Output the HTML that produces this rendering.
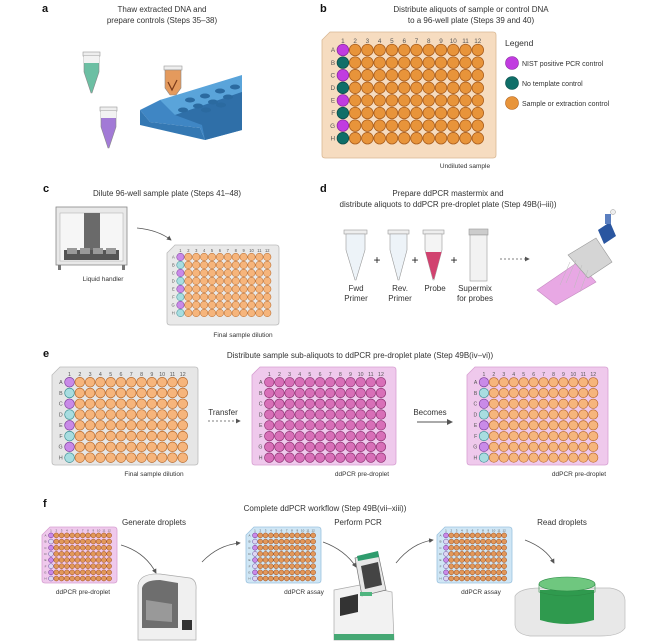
<!DOCTYPE html>
<html><head><meta charset="utf-8"><style>
body{margin:0;background:#fff;}
svg{display:block;font-family:"Liberation Sans",sans-serif;}
</style></head><body>
<svg id="s" width="650" height="642" viewBox="0 0 650 642" xmlns="http://www.w3.org/2000/svg">
<defs>
<marker id="ah" markerWidth="6" markerHeight="6" refX="5" refY="3" orient="auto"><path d="M0,0 L6,3 L0,6 z" fill="#555"/></marker>
</defs>
<g font-size="8" fill="#333" text-anchor="middle">
<g font-weight="bold" font-size="11" fill="#111" text-anchor="start">
<text x="42" y="12">a</text><text x="320" y="12">b</text>
<text x="43" y="192">c</text><text x="320" y="192">d</text>
<text x="43" y="357">e</text><text x="43" y="507">f</text>
</g>
<text x="162" y="12">Thaw extracted DNA and</text>
<text x="162" y="23">prepare controls (Steps 35–38)</text>
<text x="471" y="12">Distribute aliquots of sample or control DNA</text>
<text x="471" y="23">to a 96-well plate (Steps 39 and 40)</text>
<text x="167" y="196">Dilute 96-well sample plate (Steps 41–48)</text>
<text x="448" y="196">Prepare ddPCR mastermix and</text>
<text x="448" y="207">distribute aliquots to ddPCR pre-droplet plate (Step 49B(i–iii))</text>
<text x="360" y="358">Distribute sample sub-aliquots to ddPCR pre-droplet plate (Step 49B(iv–vi))</text>
<text x="325" y="511">Complete ddPCR workflow (Step 49B(vii–xiii))</text>
<text x="154" y="525">Generate droplets</text>
<text x="358" y="525">Perform PCR</text>
<text x="562" y="525">Read droplets</text>
</g>
<g font-size="6.5" fill="#333" text-anchor="middle">
<text x="465" y="168">Undiluted sample</text>
<text x="103" y="281">Liquid handler</text>
<text x="243" y="337">Final sample dilution</text>
<text x="154" y="476">Final sample dilution</text>
<text x="362" y="476">ddPCR pre-droplet</text>
<text x="579" y="476">ddPCR pre-droplet</text>
<text x="83" y="594">ddPCR pre-droplet</text>
<text x="304" y="594">ddPCR assay</text>
<text x="481" y="594">ddPCR assay</text>
</g>
<g font-size="8" fill="#333" text-anchor="middle">
<text x="356" y="291">Fwd</text><text x="356" y="301">Primer</text>
<text x="400" y="291">Rev.</text><text x="400" y="301">Primer</text>
<text x="435" y="291">Probe</text>
<text x="475" y="291">Supermix</text><text x="475" y="301">for probes</text>
<text x="223" y="415">Transfer</text>
<text x="430" y="415">Becomes</text>
</g>
<g font-size="7" fill="#333">
<text x="505" y="46" font-size="8.5">Legend</text>
<circle cx="512" cy="63" r="6.5" fill="#c13ce0" stroke="#8a2aa0" stroke-width=".6"/><text x="522" y="66">NIST positive PCR control</text>
<circle cx="512" cy="83" r="6.5" fill="#0f6e68" stroke="#0a4d49" stroke-width=".6"/><text x="522" y="86">No template control</text>
<circle cx="512" cy="103" r="6.5" fill="#e8943a" stroke="#b0621f" stroke-width=".6"/><text x="522" y="106">Sample or extraction control</text>
</g>
<g>
<rect x="83" y="52" width="17" height="4" fill="#eee" stroke="#999" stroke-width=".6"/>
<path d="M84,56 L99,56 L99,72 L92,93 L91,93 L84,72 z" fill="#6cbfa3" stroke="#888" stroke-width=".6"/>
<path d="M84,56 L99,56 L99,63 L84,63 z" fill="#f2f2f2"/>
<rect x="100" y="107" width="17" height="4" fill="#eee" stroke="#999" stroke-width=".6"/>
<path d="M101,111 L116,111 L116,127 L109,148 L108,148 L101,127 z" fill="#a27ad6" stroke="#888" stroke-width=".6"/>
<path d="M101,111 L116,111 L116,118 L101,118 z" fill="#f2f2f2"/>
<path d="M140,110 L160,100 L242,82 L242,130 L205,140 L200,128 L150,122 z" fill="#3f86c4"/>
<path d="M160,100 L242,75 L242,92 L175,115 z" fill="#5aa4da"/>
<path d="M175,115 L242,92 L242,130 L205,140 L202,125 z" fill="#2f6fa8"/>
<path d="M140,110 L150,122 L200,128 L205,140 L140,125 z" fill="#3478b3"/>
<g fill="#2b6aa0"><ellipse cx="190" cy="100" rx="5" ry="2.5"/><ellipse cx="205" cy="96" rx="5" ry="2.5"/><ellipse cx="220" cy="91" rx="5" ry="2.5"/><ellipse cx="235" cy="87" rx="5" ry="2.5"/><ellipse cx="198" cy="106" rx="5" ry="2.5"/><ellipse cx="213" cy="102" rx="5" ry="2.5"/><ellipse cx="228" cy="97" rx="5" ry="2.5"/><ellipse cx="183" cy="110" rx="5" ry="2.5"/><ellipse cx="206" cy="110" rx="5" ry="2.5"/><ellipse cx="221" cy="105" rx="5" ry="2.5"/></g>
<rect x="164" y="66" width="18" height="4" fill="#eee" stroke="#999" stroke-width=".6"/>
<path d="M165,70 L181,70 L181,88 L176,95 L170,95 L165,88 z" fill="#e49a5d" stroke="#888" stroke-width=".6"/>
<path d="M168,82 L172,90 L177,80" fill="none" stroke="#7a3a1a" stroke-width="1.2"/>
</g>
<g>
<rect x="56" y="207" width="71" height="58" fill="#e9e9e9" stroke="#888" stroke-width=".8"/>
<rect x="60" y="213" width="63" height="48" fill="#f6f6f6" stroke="#aaa" stroke-width=".5"/>
<rect x="84" y="213" width="16" height="38" fill="#6a6a6a"/>
<rect x="64" y="250" width="55" height="10" fill="#555"/>
<rect x="67" y="248" width="10" height="6" fill="#999"/><rect x="80" y="248" width="10" height="6" fill="#999"/><rect x="93" y="248" width="10" height="6" fill="#999"/><rect x="106" y="248" width="10" height="6" fill="#999"/>
<rect x="58" y="265" width="3" height="5" fill="#777"/><rect x="122" y="265" width="3" height="5" fill="#777"/>
<path d="M137,228 Q158,230 171,240" fill="none" stroke="#555" stroke-width=".8" marker-end="url(#ah)"/>
</g>
<g stroke="#999" stroke-width=".6">
<rect x="344" y="230" width="23" height="4" fill="#eee"/>
<path d="M346,234 L365,234 L365,250 L356,280 L355,280 L346,250 z" fill="#edf3f8"/>
<rect x="388" y="230" width="21" height="4" fill="#eee"/>
<path d="M390,234 L407,234 L407,250 L399,280 L398,280 L390,250 z" fill="#edf3f8"/>
<rect x="423" y="230" width="21" height="4" fill="#eee"/>
<path d="M425,234 L442,234 L442,250 L434,280 L433,280 L425,250 z" fill="#f4f4f4"/>
<path d="M425.5,252 L441.5,252 L434,279 L433,279 z" fill="#d1426f" stroke="none"/>
<rect x="469" y="229" width="19" height="6" fill="#ccc"/>
<rect x="470" y="235" width="17" height="46" fill="#f2f2f2"/>
</g>
<g font-size="12" fill="#222" text-anchor="middle"><text x="377" y="264">+</text><text x="415" y="264">+</text><text x="454" y="264">+</text></g>
<line x1="500" y1="259" x2="529" y2="259" stroke="#555" stroke-width=".8" stroke-dasharray="2,2" marker-end="url(#ah)"/>
<g>
<path d="M537,290 L578,262 L596,282 L556,305 z" fill="#e8a8e4" stroke="#c68cc2" stroke-width=".6"/>
<path d="M568,255 L596,238 L612,262 L588,278 z" fill="#d5d5d5" stroke="#999" stroke-width=".6"/>
<g stroke="#bbb" stroke-width=".5"><line x1="570" y1="262" x2="560" y2="285"/><line x1="576" y1="260" x2="566" y2="283"/><line x1="582" y1="265" x2="574" y2="288"/><line x1="588" y1="270" x2="580" y2="292"/></g>
<path d="M598,230 L610,222 L616,236 L604,244 z" fill="#2a56a0"/>
<rect x="605" y="214" width="6" height="10" fill="#5b7fc0"/>
<circle cx="613" cy="212" r="2.5" fill="#eee" stroke="#999" stroke-width=".5"/>
</g>
<line x1="208" y1="421" x2="240" y2="421" stroke="#555" stroke-width=".8" stroke-dasharray="2,2" marker-end="url(#ah)"/>
<line x1="417" y1="422" x2="452" y2="422" stroke="#555" stroke-width="1" marker-end="url(#ah)"/>
<g fill="none" stroke="#555" stroke-width=".8" marker-end="url(#ah)">
<path d="M121,545 Q145,552 156,573"/>
<path d="M202,562 Q218,545 240,543"/>
<path d="M323,542 Q345,550 356,567"/>
<path d="M396,563 Q412,543 433,540"/>
<path d="M525,540 Q546,548 554,563"/>
</g>
<g>
<path d="M138,585 Q140,573 160,574 L190,578 Q197,580 196,590 L196,640 L138,640 z" fill="#f0f0f0" stroke="#aaa" stroke-width=".7"/>
<path d="M142,588 Q144,580 160,580 L178,583 L178,628 L142,628 z" fill="#6e6e6e"/>
<path d="M146,600 L172,604 L172,622 L146,620 z" fill="#999"/>
<rect x="182" y="620" width="10" height="10" fill="#333"/>
</g>
<g>
<path d="M334,590 L360,585 L392,592 L394,640 L334,640 z" fill="#f2f2f2" stroke="#aaa" stroke-width=".7"/>
<path d="M355,558 L378,553 L386,590 L362,596 z" fill="#e8e8e8" stroke="#777" stroke-width=".7"/>
<path d="M357,556 L378,551 L379,557 L358,561 z" fill="#2e9c6d"/>
<path d="M361,566 L378,562 L382,585 L365,589 z" fill="#444"/>
<path d="M340,598 L358,594 L358,612 L340,616 z" fill="#333"/>
<rect x="360" y="592" width="12" height="4" fill="#4fb57f"/>
<rect x="334" y="634" width="60" height="6" fill="#46a874"/>
</g>
<g>
<path d="M515,596 Q520,588 540,588 L610,588 Q624,590 625,600 L625,628 Q620,636 600,636 L530,636 Q516,634 515,625 z" fill="#e8e8e8" stroke="#bbb" stroke-width=".7"/>
<path d="M540,590 L594,590 L594,620 Q567,628 540,620 z" fill="#2f9a4e"/>
<ellipse cx="567" cy="584" rx="28" ry="7" fill="#6fc77f" stroke="#2c8a45" stroke-width=".6"/>
<path d="M539,584 L539,592 Q567,600 595,592 L595,584" fill="none" stroke="#2c8a45" stroke-width=".6"/>
</g>
<g id="plates"></g>
</svg>
<script>
var NS="http://www.w3.org/2000/svg",G=document.getElementById("plates");
function el(t,a){var e=document.createElementNS(NS,t);for(var k in a)e.setAttribute(k,a[k]);G.appendChild(e);return e;}
function plate(x,y,w,h,bg,bs,c1,c1s,wf,ws,lab,ry0,rys){
 el("path",{d:"M"+(x+8)+","+y+" L"+(x+w-3)+","+y+" Q"+(x+w)+","+y+" "+(x+w)+","+(y+3)+" L"+(x+w)+","+(y+h-3)+" Q"+(x+w)+","+(y+h)+" "+(x+w-3)+","+(y+h)+" L"+(x+3)+","+(y+h)+" Q"+x+","+(y+h)+" "+x+","+(y+h-3)+" L"+x+","+(y+8)+" z",fill:bg,stroke:bs,"stroke-width":0.8});
 var cx0=x+w*0.12,dx=w*0.0705,cy0=y+h*(ry0||0.145),dy=h*(rys||0.1),r=Math.min(dx,dy)*0.47;
 var fs=Math.max(3,r*1.1);
 for(var j=0;j<12;j++){var t=el("text",{x:cx0+j*dx,y:cy0-r-1.5,"font-size":fs,"text-anchor":"middle",fill:"#555"});t.textContent=j+1;}
 for(var i=0;i<8;i++){
  var t=el("text",{x:cx0-r-2,y:cy0+i*dy+fs*0.35,"font-size":fs,"text-anchor":"end",fill:"#555"});t.textContent="ABCDEFGH"[i];
  for(var j=0;j<12;j++){
   var f=wf,s=ws;
   if(j==0&&c1){f=c1[i%2];s=c1s[i%2];}
   el("circle",{cx:cx0+j*dx,cy:cy0+i*dy,r:r,fill:f,stroke:s,"stroke-width":Math.max(0.5,r*0.14)});
  }}
}
var S=["#c13ce0","#0f6e68"],SS=["#8a2aa0","#0a4d49"];
var L=["#c98ae8","#a8dde0"],LS=["#7b3c9a","#3a8e92"];
plate(322,32,174,126,"#f6dcc0","#d9b894",S,SS,"#e8943a","#a85c1c",1,0.143,0.1);
plate(167,245,112,80,"#e9e9e9","#bbb",L,LS,"#f6b57c","#b8692b",1,0.15,0.1);
plate(52,367,146,98,"#e6e6e6","#bbb",L,LS,"#f6b57c","#b8692b",1,0.155,0.11);
plate(252,367,144,98,"#efc9ec","#d7a0d2",null,null,"#d86fb8","#8a2f6e",1,0.155,0.11);
plate(467,367,141,98,"#efc9ec","#d7a0d2",L,LS,"#f6b57c","#b8692b",1,0.155,0.11);
plate(42,527,75,56,"#efc9ec","#d7a0d2",["#c98ae8","#ddd6f2"],["#6a2d8a","#6a4aa0"],"#e2985a","#9b4c1e",1,0.15,0.11);
plate(246,527,75,56,"#cfe6f5","#9cc3df",["#c98ae8","#ddd6f2"],["#6a2d8a","#6a4aa0"],"#e2985a","#9b4c1e",1,0.15,0.11);
plate(437,527,75,56,"#cfe6f5","#9cc3df",["#c98ae8","#ddd6f2"],["#6a2d8a","#6a4aa0"],"#e2985a","#9b4c1e",1,0.15,0.11);
</script>
</body></html>
